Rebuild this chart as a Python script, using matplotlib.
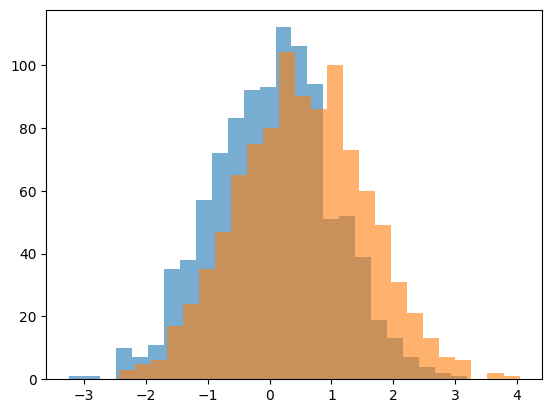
import numpy as np
import matplotlib
matplotlib.use("Agg")
import matplotlib.pyplot as plt

# Series A (blue) histogram: 25 bins
a_range = (-3.252, 3.187)
a_counts = [1, 1, 0, 10, 7, 11, 35, 38, 57, 72, 83, 92, 93, 112, 106, 94,
            51, 52, 39, 19, 13, 7, 4, 2, 1]

# Series B (orange) histogram: 25 bins
b_range = (-2.443, 4.045)
b_counts = [3, 5, 6, 17, 24, 35, 47, 65, 75, 80, 104, 90, 86, 100, 73, 60,
            49, 31, 21, 13, 7, 6, 0, 2, 1]

fig, ax = plt.subplots(figsize=(6.4, 4.8), dpi=100)

for rng, counts in [(a_range, a_counts), (b_range, b_counts)]:
    edges = np.linspace(rng[0], rng[1], len(counts) + 1)
    centers = (edges[:-1] + edges[1:]) / 2
    ax.hist(centers, bins=edges, weights=counts, alpha=0.6)

fig.savefig("out.png", dpi=100, bbox_inches="tight")
